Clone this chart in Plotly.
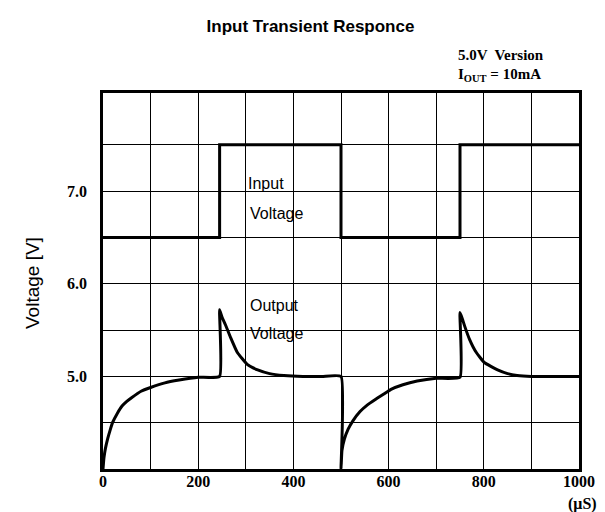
import plotly.graph_objects as go

# ---------------- data ----------------
input_time = [0, 245, 245, 500, 500, 750, 750, 1000]
input_volt = [6.5, 6.5, 7.5, 7.5, 6.5, 6.5, 7.5, 7.5]

output_time = [0, 2, 5, 10, 15, 20, 30, 40, 50, 60, 80, 100, 130, 160, 200, 245,
               245, 250, 257, 268, 282, 303, 325, 350, 380, 420, 460, 500,
               500, 502, 507, 515, 525, 540, 555, 575, 590, 605, 630, 660, 700, 750,
               750, 755, 760, 770, 784, 801, 829, 850, 870, 900, 950, 1000]
output_volt = [4.0, 4.12, 4.22, 4.33, 4.42, 4.5, 4.6, 4.68, 4.73, 4.77, 4.84, 4.88, 4.93, 4.96, 4.99, 5.0,
               5.72, 5.64, 5.56, 5.42, 5.26, 5.13, 5.07, 5.03, 5.01, 5.0, 5.0, 5.0,
               4.0, 4.2, 4.32, 4.43, 4.52, 4.62, 4.69, 4.76, 4.81, 4.86, 4.91, 4.95, 4.98, 4.99,
               5.69, 5.62, 5.54, 5.40, 5.26, 5.15, 5.07, 5.03, 5.01, 5.0, 5.0, 5.0]

x_tickvals = [0, 200, 400, 600, 800, 1000]
x_ticktext = ["0", "200", "400", "600", "800", "1000"]
x_gridvals = [100, 300, 500, 700, 900]
y_tickvals = [5.0, 6.0, 7.0]
y_ticktext = ["5.0", "6.0", "7.0"]
y_gridvals = [4.5, 5.5, 6.5, 7.5]

title_text = "Input Transient Responce"
y_title = "Voltage [V]"
x_unit = "(μS)"
note_lines = ["5.0V  Version", "I<sub>OUT</sub> = 10mA"]

# ---------------- figure ----------------
fig = go.Figure()
fig.add_trace(go.Scatter(x=input_time, y=input_volt, mode="lines",
                         line=dict(color="black", width=3), showlegend=False,
                         hoverinfo="skip"))
fig.add_trace(go.Scatter(x=output_time, y=output_volt, mode="lines",
                         line=dict(color="black", width=3, shape="spline", smoothing=0.4),
                         showlegend=False, hoverinfo="skip"))

serif = "Liberation Serif, Times New Roman, serif"
sans = "Liberation Sans, Arial, sans-serif"

fig.update_layout(
    width=605, height=512,
    margin=dict(l=95, r=34, t=85, b=51),
    paper_bgcolor="white", plot_bgcolor="white",
    title=dict(text="<b>" + title_text + "</b>", x=0.5, xref="container",
               y=1 - 18 / 512, yref="container", yanchor="middle", xanchor="center",
               font=dict(family=sans, size=17, color="black")),
    xaxis=dict(range=[0, 1000], tickmode="array", tickvals=x_tickvals, ticktext=x_ticktext,
               showgrid=True, gridcolor="black", gridwidth=1,
               minor=dict(tickmode="array", tickvals=x_gridvals, showgrid=True,
                          gridcolor="black", gridwidth=1, ticks=""),
               showline=True, mirror=True, linecolor="black", linewidth=2.5,
               zeroline=False, ticks="", ticklabelstandoff=-4,
               tickfont=dict(family=serif, size=16, color="black", weight="bold")),
    yaxis=dict(range=[4.0, 8.06], tickmode="array", tickvals=y_tickvals, ticktext=y_ticktext,
               showgrid=True, gridcolor="black", gridwidth=1,
               minor=dict(tickmode="array", tickvals=y_gridvals, showgrid=True,
                          gridcolor="black", gridwidth=1, ticks=""),
               showline=True, mirror=True, linecolor="black", linewidth=2.5,
               zeroline=False, ticks="", ticklabelstandoff=10,
               tickfont=dict(family=serif, size=16, color="black", weight="bold")),
)

# white boxes behind the in-plot labels (cover grid lines)
fig.add_shape(type="rect", x0=294, x1=468, y0=6.58, y1=7.28, xref="x", yref="y",
              fillcolor="white", line=dict(width=0), layer="below")
fig.add_shape(type="rect", x0=300, x1=468, y0=5.29, y1=5.98, xref="x", yref="y",
              fillcolor="white", line=dict(width=0), layer="below")

label_font = dict(family=sans, size=16, color="black")
for txt, yy in [("Input", 7.08), ("Voltage", 6.76), ("Output", 5.77), ("Voltage", 5.46)]:
    fig.add_annotation(x=300 if txt == "Input" else 305, y=yy, xref="x", yref="y",
                       text=txt, showarrow=False, xanchor="left", yanchor="middle",
                       font=label_font)

# notes top right
for txt, py in zip(note_lines, [47, 67]):
    fig.add_annotation(x=(448 - 95) / 476, y=(461 - py) / 376, xref="paper", yref="paper",
                       text=txt, showarrow=False, xanchor="left", yanchor="middle",
                       font=dict(family=serif, size=15, color="black", weight="bold"))

# y axis title
fig.add_annotation(x=(24 - 95) / 476, y=(461 - 275) / 376, xref="paper", yref="paper",
                   text=y_title, textangle=-90, showarrow=False,
                   xanchor="center", yanchor="middle",
                   font=dict(family=sans, size=19, color="black"))
# x unit
fig.add_annotation(x=(574 - 95) / 476, y=(461 - 496) / 376, xref="paper", yref="paper",
                   text=x_unit, showarrow=False, xanchor="center", yanchor="middle",
                   font=dict(family=serif, size=16, color="black", weight="bold"))

fig.write_html("out.html")
